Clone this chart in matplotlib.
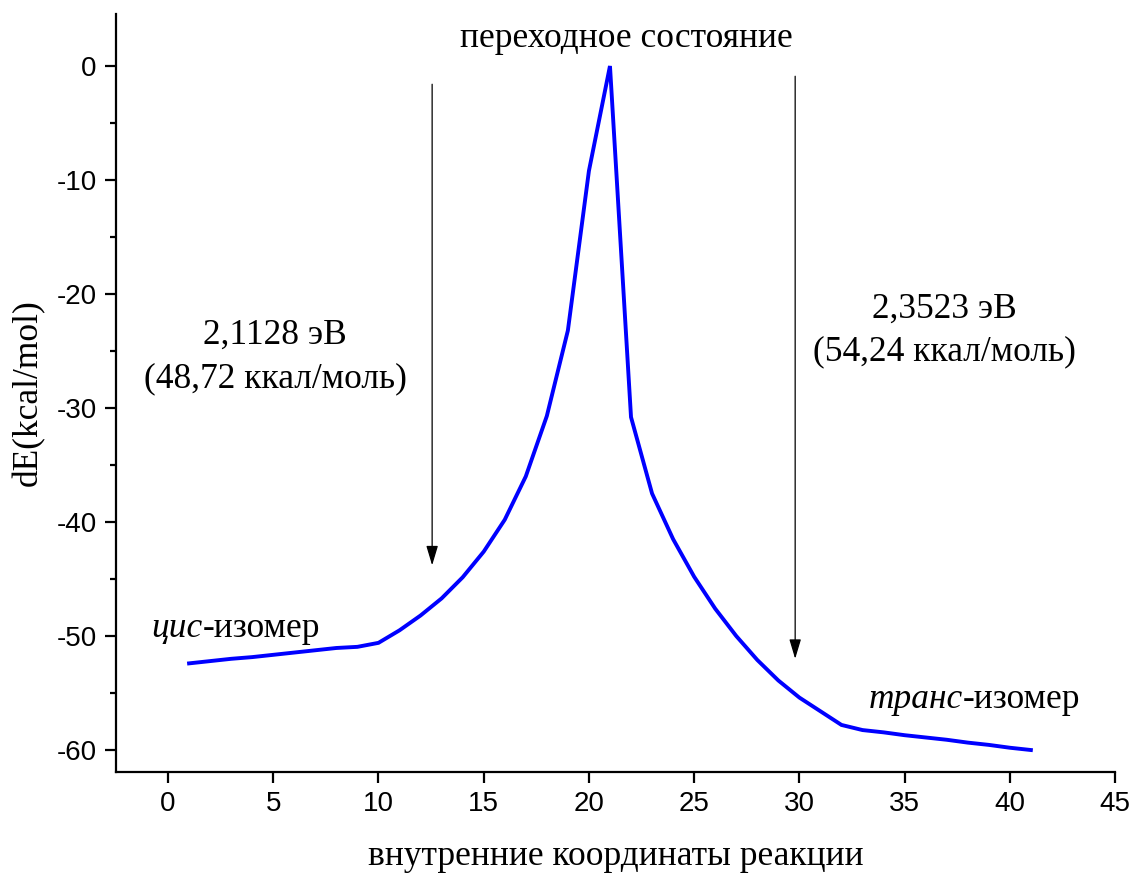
import matplotlib
matplotlib.use("Agg")
import matplotlib.pyplot as plt
from matplotlib.ticker import MultipleLocator

# reaction coordinate and energy profile (kcal/mol)
coord = list(range(1, 42))
energy = [
    -52.4, -52.2, -52.0, -51.85, -51.65, -51.45, -51.25, -51.05, -50.95, -50.6,
    -49.5, -48.2, -46.7, -44.85, -42.6, -39.8, -36.0, -30.7, -23.2, -9.2,
    0.0, -30.8, -37.5, -41.5, -44.8, -47.6, -50.0, -52.1, -53.9, -55.4,
    -56.6, -57.8, -58.25, -58.45, -58.7, -58.9, -59.1, -59.35, -59.55, -59.8,
    -60.0,
]

x_ticks = [0, 5, 10, 15, 20, 25, 30, 35, 40, 45]
y_ticks = [0, -10, -20, -30, -40, -50, -60]

# arrows: (x, y_start, y_end)
arrow_left = (12.55, -1.6, -43.8)
arrow_right = (29.8, -0.9, -52.0)

barrier_left = "2,1128 эВ\n(48,72 ккал/моль)"
barrier_right = "2,3523 эВ\n(54,24 ккал/моль)"

plt.rcParams["axes.unicode_minus"] = False
SERIF = "Liberation Serif"
SANS = "Liberation Sans"
FS = 25.5

fig = plt.figure(figsize=(11.31, 8.76), dpi=100)
ax = fig.add_axes([0.1026, 0.1187, 0.8833, 0.8653])

ax.plot(coord, energy, color="#0000ff", lw=2.8, solid_joinstyle="miter")

ax.set_xlim(-2.47, 45)
ax.set_ylim(-61.93, 4.56)
ax.set_xticks(x_ticks)
ax.set_yticks(y_ticks)
ax.yaxis.set_minor_locator(MultipleLocator(5))

for side in ("top", "right"):
    ax.spines[side].set_visible(False)
for side in ("left", "bottom"):
    ax.spines[side].set_linewidth(1.6)

ax.tick_params(which="major", direction="out", length=8, width=1.6, labelsize=20, pad=6)
ax.tick_params(which="minor", direction="out", length=4, width=1.6)
for lab in ax.get_xticklabels() + ax.get_yticklabels():
    lab.set_fontfamily(SANS)

ax.set_xlabel("внутренние координаты реакции", fontsize=FS, family=SERIF, labelpad=16)
ax.set_ylabel("dE(kcal/mol)", fontsize=FS, family=SERIF, labelpad=8)

arrow_kw = dict(arrowstyle="-|>,head_length=0.6,head_width=0.18", color="black",
                lw=0.9, mutation_scale=20, shrinkA=0, shrinkB=0)
for ax_x, y0, y1 in (arrow_left, arrow_right):
    ax.annotate("", xy=(ax_x, y1), xytext=(ax_x, y0), arrowprops=arrow_kw)

ax.text(21.8, 2.45, "переходное состояние", fontsize=FS, family=SERIF,
        ha="center", va="center")
ax.text(5.1, -25.5, barrier_left, fontsize=FS, family=SERIF, ha="center",
        va="center", linespacing=1.42)
ax.text(36.9, -23.2, barrier_right, fontsize=FS, family=SERIF, ha="center",
        va="center", linespacing=1.42)

t1 = ax.text(-0.8, -49.3, "цис", fontsize=FS, family=SERIF, style="italic",
             ha="left", va="center")
ax.annotate("-изомер", xy=(1, 0), xycoords=t1, fontsize=FS, family=SERIF,
            ha="left", va="bottom")
t2 = ax.text(33.3, -55.6, "транс", fontsize=FS, family=SERIF, style="italic",
             ha="left", va="center")
ax.annotate("-изомер", xy=(1, 0), xycoords=t2, fontsize=FS, family=SERIF,
            ha="left", va="bottom")

fig.savefig("out.png", dpi=100)
